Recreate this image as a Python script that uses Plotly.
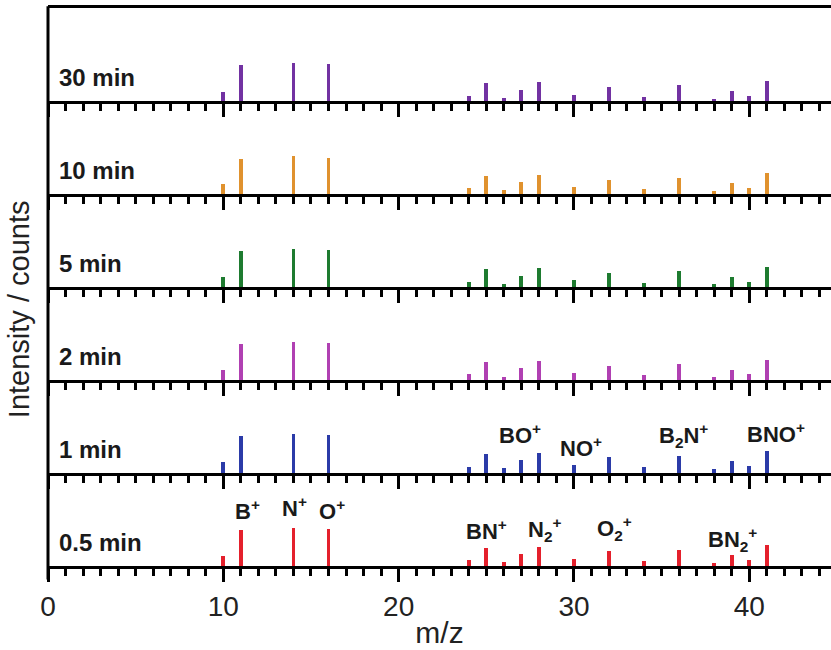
import plotly.graph_objects as go
from plotly.subplots import make_subplots

# ---- data ----
mz = [10, 11, 14, 16, 24, 25, 26, 27, 28, 30, 32, 34, 36, 38, 39, 40, 41]
panel_labels = ["30 min", "10 min", "5 min", "2 min", "1 min", "0.5 min"]
colors = ["#7232A2", "#E0922E", "#1E7B30", "#B040B2", "#2B3BA8", "#E4202C"]

i_30 = [9.3, 35.7, 37.7, 36.7, 5.0, 17.7, 3.0, 11.3, 19.0, 6.0, 14.0, 3.7, 15.7, 2.3, 10.0, 5.0, 20.3]
i_10 = [10.3, 35.0, 37.7, 36.3, 5.7, 18.0, 4.0, 11.7, 19.0, 7.3, 14.3, 5.0, 16.0, 3.3, 10.7, 6.0, 20.7]
i_5 = [9.7, 35.7, 37.7, 36.7, 5.0, 17.7, 3.3, 11.3, 19.0, 6.7, 14.0, 4.3, 16.0, 2.7, 10.3, 5.3, 20.3]
i_2 = [9.7, 36.0, 38.0, 37.0, 5.7, 17.7, 3.3, 11.7, 19.0, 6.7, 14.3, 4.7, 16.0, 2.7, 10.3, 6.0, 20.3]
i_1 = [11.0, 37.0, 39.0, 38.0, 6.3, 18.7, 5.0, 13.0, 20.3, 7.7, 15.7, 5.7, 17.0, 4.3, 11.7, 6.7, 21.7]
i_05 = [10.3, 36.0, 38.0, 37.0, 6.0, 18.3, 4.0, 12.3, 19.3, 7.3, 14.7, 5.3, 16.0, 3.3, 11.0, 6.0, 21.0]
intensities = [i_30, i_10, i_5, i_2, i_1, i_05]

# ion labels: text, m/z position, height above baseline, panel row
ion_text = ["B<sup>+</sup>", "N<sup>+</sup>", "O<sup>+</sup>", "BN<sup>+</sup>",
            "N<sub>2</sub><sup>+</sup>", "O<sub>2</sub><sup>+</sup>", "BN<sub>2</sub><sup>+</sup>",
            "BO<sup>+</sup>", "NO<sup>+</sup>", "B<sub>2</sub>N<sup>+</sup>", "BNO<sup>+</sup>"]
ion_x = [11.4, 14.06, 16.2, 25.0, 28.3, 32.3, 39.05, 26.9, 30.4, 36.25, 41.5]
ion_y = [46, 49, 46, 26, 29, 30, 19, 29, 16, 30, 30]
ion_row = [6, 6, 6, 6, 6, 6, 6, 5, 5, 5, 5]
ion_has_sub = [False, False, False, False, True, True, True, False, False, True, False]

xmax = 44.66
ymax = 93
FONT = "Liberation Sans, Arial, sans-serif"

fig = make_subplots(rows=6, cols=1, shared_xaxes=True, vertical_spacing=0)

for r in range(6):
    fig.add_trace(go.Bar(x=mz, y=intensities[r], width=0.22,
                         marker=dict(color=colors[r], line=dict(width=0)),
                         showlegend=False, hoverinfo="skip"), row=r + 1, col=1)
    fig.update_xaxes(range=[0, xmax], showline=True, linewidth=3, linecolor="black",
                     ticks="outside", tickwidth=2.5, ticklen=13, tickcolor="black",
                     dtick=10, tick0=0, showgrid=False, zeroline=False,
                     showticklabels=(r == 5),
                     tickfont=dict(family=FONT, size=28, color="#222"),
                     minor=dict(ticks="outside", ticklen=7, tickwidth=2.5,
                                tickcolor="black", dtick=1, showgrid=False),
                     mirror=(r == 0),
                     row=r + 1, col=1)
    fig.update_yaxes(range=[0, ymax], showline=False,
                     ticks="", showticklabels=False, showgrid=False, zeroline=False,
                     row=r + 1, col=1)
    yref = "y" if r == 0 else f"y{r + 1}"
    fig.add_annotation(text=f"<b>{panel_labels[r]}</b>", xref="x domain", yref=yref,
                       x=0.011, y=24, xanchor="left", yanchor="middle", showarrow=False,
                       font=dict(family=FONT, size=24, color="#1a1a1a"))

for t, x, y, row, sub in zip(ion_text, ion_x, ion_y, ion_row, ion_has_sub):
    fig.add_annotation(text=f"<b>{t}</b>", xref=f"x{row}", yref=f"y{row}", x=x,
                       y=y - (10 if sub else 6), xanchor="center", yanchor="bottom",
                       showarrow=False, font=dict(family=FONT, size=22, color="#1a1a1a"))

# continuous left spine
fig.add_shape(type="line", xref="paper", yref="paper", x0=0, x1=0,
              y0=-0.024, y1=1.003, line=dict(color="black", width=3))

fig.update_xaxes(title=dict(text="m/z", font=dict(family=FONT, size=30, color="#222"),
                            standoff=2), row=6, col=1)

fig.add_annotation(text="Intensity / counts", xref="paper", yref="paper",
                   x=-0.036, y=0.46, xanchor="center", yanchor="middle",
                   textangle=-90, showarrow=False,
                   font=dict(family=FONT, size=29, color="#222"))

fig.update_layout(width=831, height=650, margin=dict(l=48, r=0, t=8, b=84),
                  paper_bgcolor="white", plot_bgcolor="white", bargap=0)

fig.write_html("out.html")
